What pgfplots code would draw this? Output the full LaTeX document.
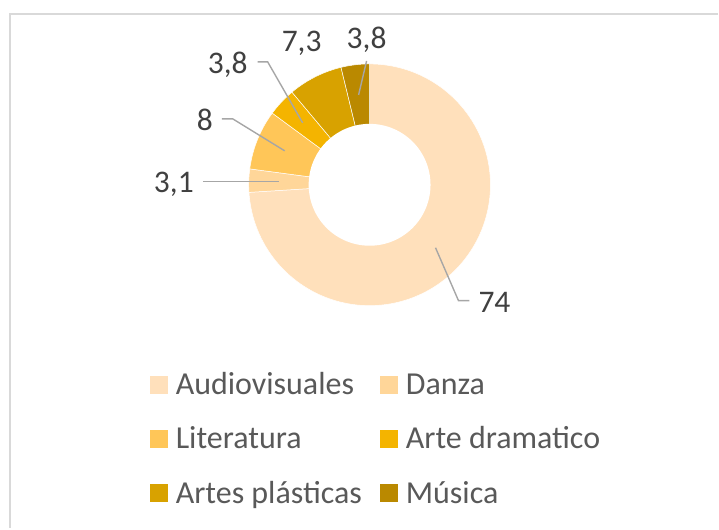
\documentclass[border=0pt]{standalone}
\usepackage{pgfplots}
\pgfplotsset{compat=1.18}
\usepackage{fontspec}
\setmainfont{Carlito}

\definecolor{cAud}{HTML}{FFE0BB}
\definecolor{cDan}{HTML}{FFD699}
\definecolor{cLit}{HTML}{FFC658}
\definecolor{cDra}{HTML}{F4B400}
\definecolor{cPla}{HTML}{D8A200}
\definecolor{cMus}{HTML}{BA8900}
\definecolor{leader}{HTML}{A6A6A6}
\definecolor{frame}{HTML}{D9D9D9}
\definecolor{lbl}{HTML}{404040}
\definecolor{legtxt}{HTML}{595959}

% donut: centre (370,344), outer radius 121, inner radius 61, clockwise from 12 o'clock
% slices (percent): Audiovisuales 74, Danza 3.1, Literatura 8, Arte dramatico 3.8, Artes plasticas 7.3, Musica 3.8
\pgfplotsset{
  slice/.style={draw=white, line width=0.5pt, samples=120, variable=\t},
}

\begin{document}
\begin{tikzpicture}
\begin{axis}[
    width=719pt, height=529pt, scale only axis,
    xmin=0, xmax=719, ymin=0, ymax=529,
    axis lines=none, clip=false,
    legend columns=2,
    legend cell align=left,
    legend image code/.code={\fill[#1, draw=none] (0pt,-6.5pt) rectangle (18pt,11.5pt);},
    legend style={
      draw=none, fill=none, inner sep=0pt, outer sep=0pt,
      at={(axis cs:150,158)}, anchor=north west,
      font=\fontsize{32}{37}\selectfont, text=legtxt,
      row sep=21.5pt,
      nodes={inner xsep=8pt, inner ysep=2pt, text height=22pt, text depth=7pt},
      /tikz/every even column/.append style={column sep=10pt},
    },
  ]
  \path (axis cs:0,0) rectangle (axis cs:719,529);

  \addplot[slice, fill=cAud, domain=0:74]
    ({370+121*cos(90-3.6*\t)}, {344+121*sin(90-3.6*\t)}) -- (axis cs:370,344) -- cycle;
  \addplot[slice, fill=cDan, domain=74:77.1]
    ({370+121*cos(90-3.6*\t)}, {344+121*sin(90-3.6*\t)}) -- (axis cs:370,344) -- cycle;
  \addplot[slice, fill=cLit, domain=77.1:85.1]
    ({370+121*cos(90-3.6*\t)}, {344+121*sin(90-3.6*\t)}) -- (axis cs:370,344) -- cycle;
  \addplot[slice, fill=cDra, domain=85.1:88.9]
    ({370+121*cos(90-3.6*\t)}, {344+121*sin(90-3.6*\t)}) -- (axis cs:370,344) -- cycle;
  \addplot[slice, fill=cPla, domain=88.9:96.2]
    ({370+121*cos(90-3.6*\t)}, {344+121*sin(90-3.6*\t)}) -- (axis cs:370,344) -- cycle;
  \addplot[slice, fill=cMus, domain=96.2:100]
    ({370+121*cos(90-3.6*\t)}, {344+121*sin(90-3.6*\t)}) -- (axis cs:370,344) -- cycle;
  \legend{Audiovisuales, Danza, Literatura, Arte dramatico, Artes plásticas, Música}

  % hole
  \addplot[forget plot, fill=white, draw=none, domain=0:360, samples=120, variable=\t]
    ({370+61*cos(\t)}, {344+61*sin(\t)}) -- cycle;

  % leader lines
  \addplot[forget plot, leader, line width=1.4pt] coordinates {(258,467) (268,467) (303,406)};
  \addplot[forget plot, leader, line width=1.4pt] coordinates {(222,410) (233,410) (285,378)};
  \addplot[forget plot, leader, line width=1.4pt] coordinates {(203,347) (279,347)};
  \addplot[forget plot, leader, line width=1.4pt] coordinates {(367,468) (359,434)};
  \addplot[forget plot, leader, line width=1.4pt] coordinates {(470,228) (459,228) (436,281)};

  % data labels
  \begin{scope}[every node/.style={anchor=base, text=lbl, font=\fontsize{31.5}{36}\selectfont, inner sep=0pt}]
    \node at (axis cs:228,455) {3,8};
    \node at (axis cs:302,477) {7,3};
    \node at (axis cs:367,480) {3,8};
    \node at (axis cs:205,398) {8};
    \node at (axis cs:174,336) {3,1};
    \node at (axis cs:495,216) {74};
  \end{scope}

  % chart area border (only top and left edges visible)
  \draw[frame, line width=1.6pt] (axis cs:719,515) -- (axis cs:10,515) -- (axis cs:10,0);
\end{axis}
\end{tikzpicture}
\end{document}
